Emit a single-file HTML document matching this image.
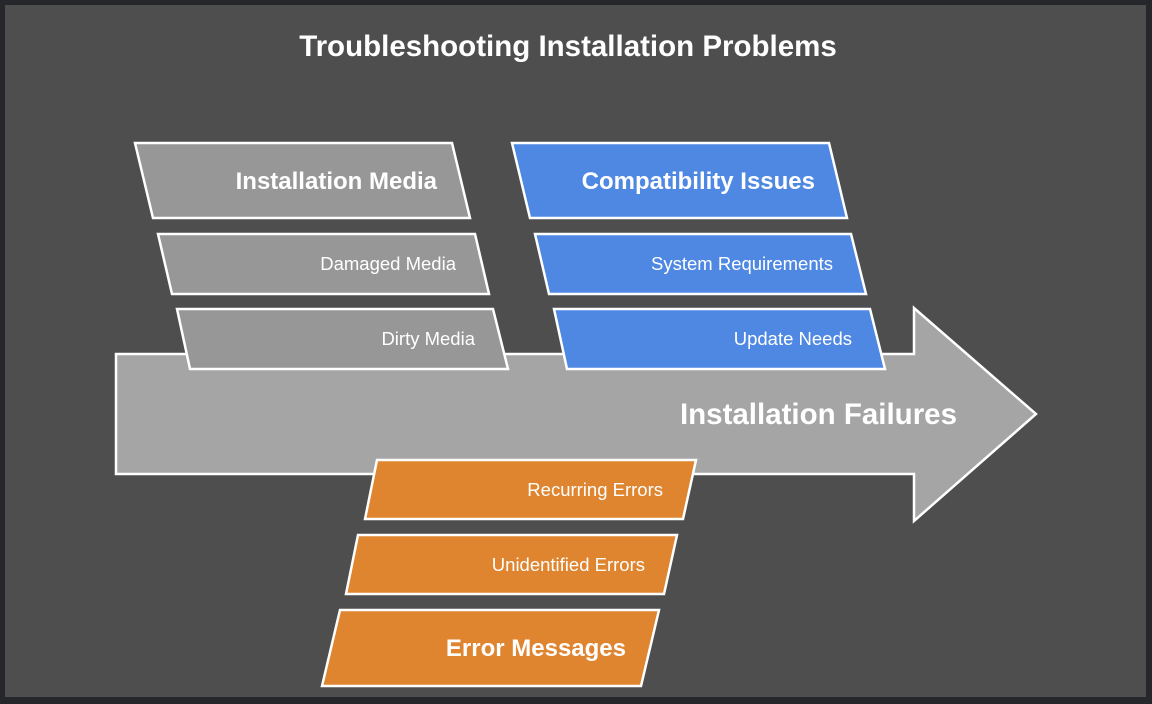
<!DOCTYPE html>
<html><head><meta charset="utf-8"><style>
html,body{margin:0;padding:0;background:#26272b;}
svg{display:block}
text{font-family:"Liberation Sans",sans-serif;fill:#fff;}
</style></head><body>
<svg width="1152" height="704" viewBox="0 0 1152 704">
<rect x="0" y="0" width="1152" height="704" fill="#26272b"/>
<rect x="5" y="5" width="1141" height="692" fill="#4e4e4e"/>
<text x="568" y="56" font-size="29.5" font-weight="bold" text-anchor="middle">Troubleshooting Installation Problems</text>
<polygon points="116,354 914,354 914,308 1036,414 914,521 914,474 116,474" fill="#a5a5a5" stroke="#fff" stroke-width="2.5"/>
<text x="957" y="424" font-size="29.5" font-weight="bold" text-anchor="end">Installation Failures</text>
<g stroke="#fff" stroke-width="2.5">
<polygon points="135,143 452,143 470,218 153,218" fill="#979797"/>
<polygon points="158,234 475,234 489,294 172,294" fill="#979797"/>
<polygon points="177,309 493,309 508,369 190,369" fill="#979797"/>
<polygon points="512,143 829,143 847,218 530,218" fill="#4f88e3"/>
<polygon points="535,234 851,234 866,294 549,294" fill="#4f88e3"/>
<polygon points="554,309 870,309 885,369 567,369" fill="#4f88e3"/>
<polygon points="377,460 696,460 683,519 365,519" fill="#e0852f"/>
<polygon points="358,535 677,535 664,594 346,594" fill="#e0852f"/>
<polygon points="340,610 659,610 641,686 322,686" fill="#e0852f"/>
</g>
<g text-anchor="end">
<text x="437" y="189" font-size="24" font-weight="bold">Installation Media</text>
<text x="456" y="270" font-size="18.5">Damaged Media</text>
<text x="475" y="345" font-size="18.5">Dirty Media</text>
<text x="815" y="189" font-size="24" font-weight="bold">Compatibility Issues</text>
<text x="833" y="270" font-size="18.5">System Requirements</text>
<text x="852" y="345" font-size="18.5">Update Needs</text>
<text x="663" y="496" font-size="18.5">Recurring Errors</text>
<text x="645" y="571" font-size="18.5">Unidentified Errors</text>
<text x="626" y="656" font-size="24" font-weight="bold">Error Messages</text>
</g>
</svg>
</body></html>
